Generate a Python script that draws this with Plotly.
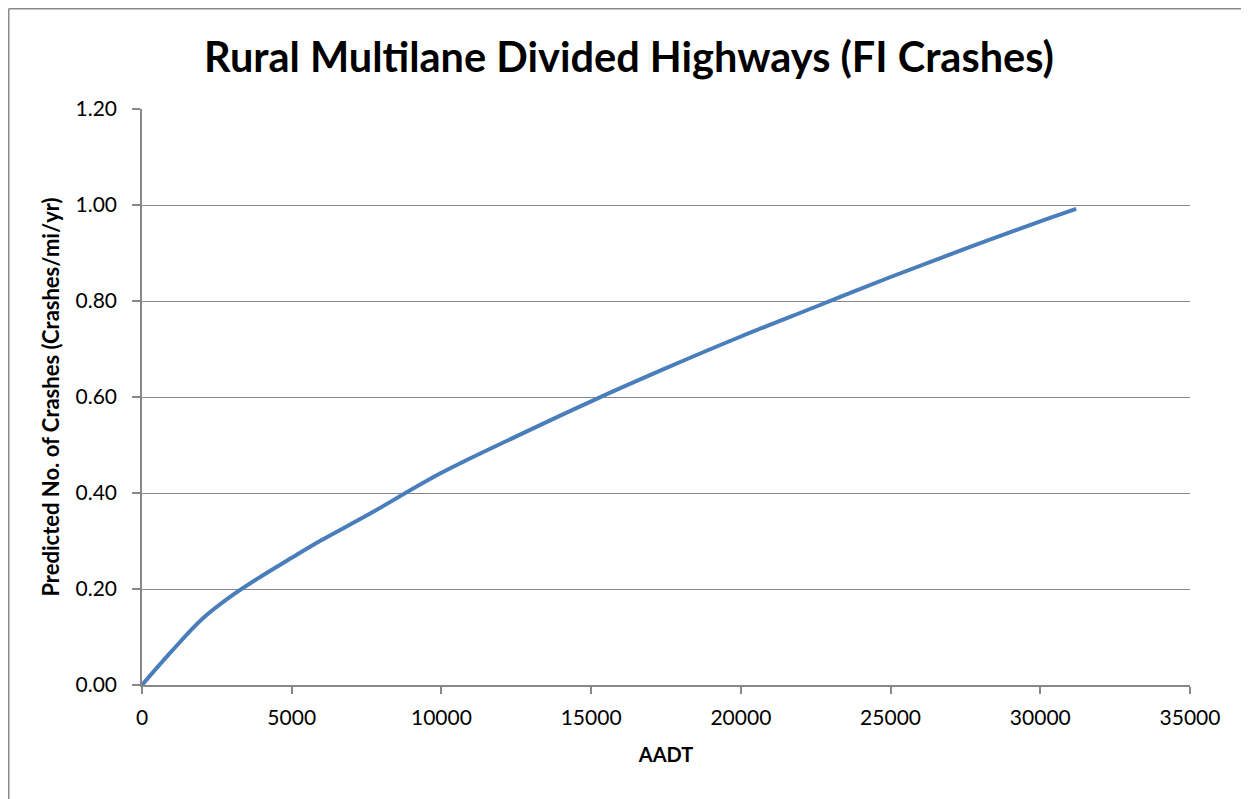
import plotly.graph_objects as go

aadt = [0, 1000, 2000, 3000, 4000, 5000, 6000, 7500, 10000, 12500,
        15000, 17500, 20000, 22500, 25000, 27500, 30000, 31200]
crashes = [0.000, 0.071, 0.137, 0.186, 0.227, 0.265, 0.302, 0.353,
           0.442, 0.518, 0.591, 0.660, 0.726, 0.788, 0.850, 0.909, 0.966, 0.992]

title_text = "Rural Multilane Divided Highways (FI Crashes)"
x_title = "AADT"
y_title = "Predicted No. of Crashes (Crashes/mi/yr)"

grid = "#878787"
FONT = "Lato, 'Open Sans', sans-serif"

# page body has an 8px margin, so the figure is offset by (8, 8)
W, H = 1241, 791
L, T = 134, 101
R, B = 59, 114
pw = W - L - R
ph = H - T - B


def px_x(v):
    return (v - L) / pw


def px_y(v):
    return (ph + T - v) / ph


fig = go.Figure()
fig.add_trace(go.Scatter(
    x=aadt, y=crashes, mode="lines",
    line=dict(color="#4A7EBB", width=4, shape="spline", smoothing=1.0),
    showlegend=False, hoverinfo="x+y",
))

fig.update_layout(
    width=W, height=H,
    paper_bgcolor="white", plot_bgcolor="white",
    margin=dict(l=L, r=R, t=T, b=B, autoexpand=False),
    font=dict(family=FONT, color="black", size=21),
    title=dict(text=f"<b>{title_text}</b>", x=(629 - 8) / W, xanchor="center",
               y=1 - 49 / H, yanchor="middle",
               font=dict(size=41.5, family=FONT, color="black")),
    xaxis=dict(
        range=[0, 35000], dtick=5000, tick0=0, tickformat="d",
        showgrid=False, zeroline=False,
        showline=True, linecolor=grid, linewidth=1.5,
        ticks="outside", ticklen=7, tickcolor=grid, tickwidth=1.5,
        tickfont=dict(size=21), ticklabelstandoff=6,
        title=dict(text=f"<b>{x_title}</b>", font=dict(size=20), standoff=20),
    ),
    yaxis=dict(
        range=[0, 1.2], dtick=0.2, tick0=0, tickformat=".2f",
        showgrid=True, gridcolor=grid, gridwidth=1,
        zeroline=False,
        showline=True, linecolor=grid, linewidth=1.5,
        ticks="outside", ticklen=8, tickcolor=grid, tickwidth=1.5,
        tickfont=dict(size=21), ticklabelstandoff=11,
        title=dict(text=f"<b>{y_title}</b>", font=dict(size=22), standoff=10),
    ),
    shapes=[
        dict(type="line", xref="paper", yref="paper",
             x0=px_x(0.75), x1=px_x(W), y0=px_y(0.75), y1=px_y(0.75),
             line=dict(color="#898989", width=1.5), layer="below"),
        dict(type="line", xref="paper", yref="paper",
             x0=px_x(0.75), x1=px_x(0.75), y0=px_y(0.75), y1=px_y(H),
             line=dict(color="#898989", width=1.5), layer="below"),
    ],
)

fig.write_html("out.html")
